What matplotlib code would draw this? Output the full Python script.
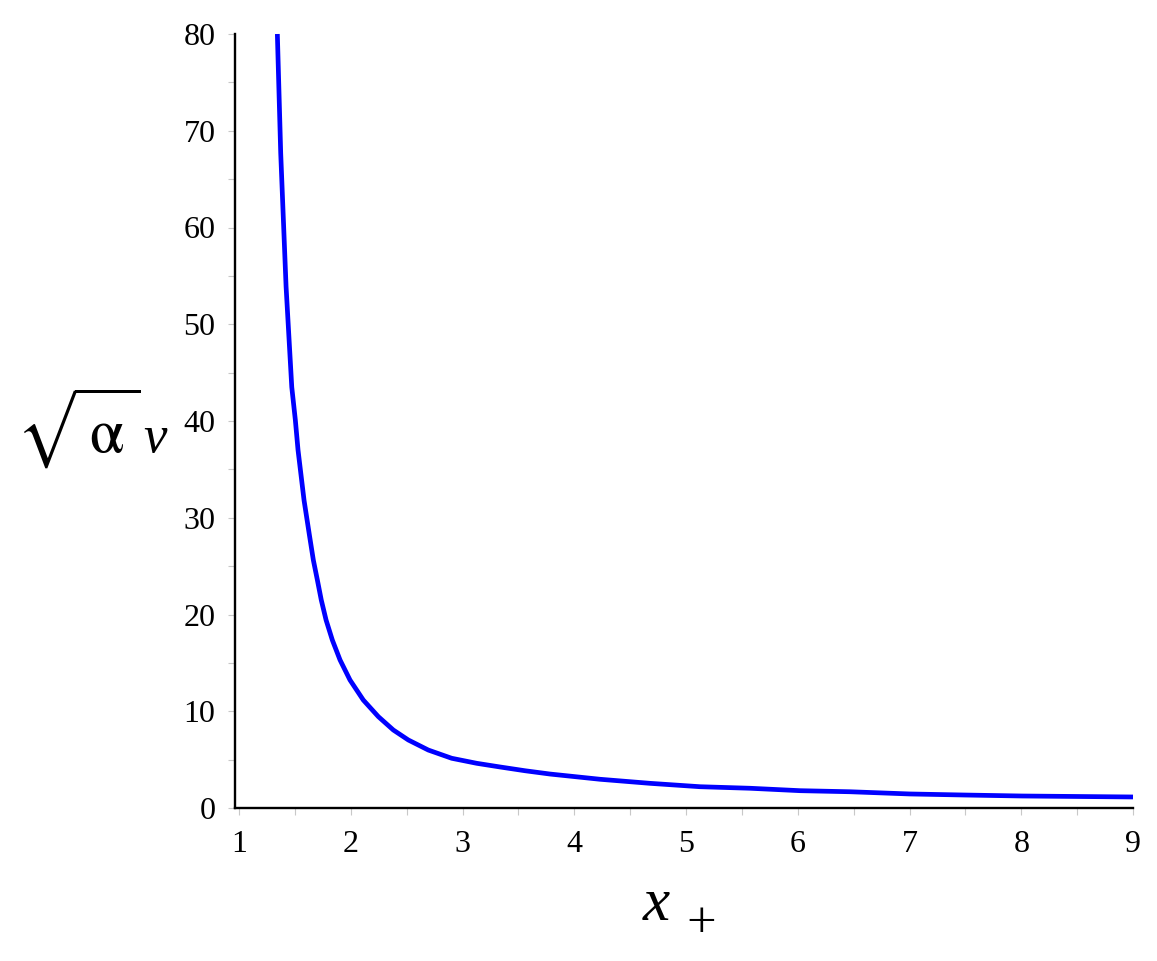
import matplotlib
matplotlib.use("Agg")
import matplotlib.pyplot as plt
from matplotlib.ticker import MultipleLocator

plt.rcParams['font.family'] = ['Liberation Serif', 'DejaVu Serif']
plt.rcParams['mathtext.fontset'] = 'stix'

# valores
x_mas = [1.343, 1.373, 1.421, 1.472, 1.504, 1.528, 1.582, 1.630, 1.665, 1.701,
         1.736, 1.779, 1.835, 1.904, 1.993, 2.112, 2.247, 2.381, 2.515, 2.694,
         2.903, 3.127, 3.336, 3.560, 3.783, 4.230, 4.678, 5.125, 5.573, 6.020,
         6.467, 7.004, 7.500, 8.007, 8.500, 9.0]
alfa_v = [80.0, 67.7, 53.9, 43.5, 40.1, 37.0, 31.8, 28.2, 25.63, 23.57,
          21.50, 19.43, 17.36, 15.30, 13.23, 11.16, 9.44, 8.06, 7.03, 5.99,
          5.14, 4.62, 4.24, 3.85, 3.51, 2.97, 2.55, 2.20, 2.04, 1.79,
          1.68, 1.45, 1.34, 1.24, 1.19, 1.14]

W, H = 1157, 961
fig = plt.figure(figsize=(W / 100, H / 100), dpi=100)
ax = fig.add_axes([235 / W, 1 - 808 / H, (1133 - 235) / W, (808 - 34) / H])

ax.plot(x_mas, alfa_v, color='#0000ff', lw=3.4, clip_on=False,
        solid_capstyle='butt', solid_joinstyle='round')

ax.set_xlim(0.964, 9.0)
ax.set_ylim(0, 80)

ax.spines['top'].set_visible(False)
ax.spines['right'].set_visible(False)
ax.spines['left'].set_linewidth(1.7)
ax.spines['bottom'].set_linewidth(1.7)

ax.xaxis.set_major_locator(MultipleLocator(1))
ax.xaxis.set_minor_locator(MultipleLocator(0.5))
ax.yaxis.set_major_locator(MultipleLocator(10))
ax.yaxis.set_minor_locator(MultipleLocator(5))
ax.tick_params(which='both', direction='out', length=5, width=0.8,
               color='#c8c8c8', labelsize=23)
ax.tick_params(axis='x', pad=11)
ax.tick_params(axis='y', pad=9)

# etiquetas de los ejes
fig.text(78 / W, 1 - 428 / H, r'$\sqrt{\,\mathrm{\alpha}\,}$', fontsize=45,
         ha='center', va='center')
fig.text(155 / W, 1 - 452 / H, 'v', fontsize=38, style='italic',
         ha='center', va='baseline')
fig.text(656 / W, 1 - 920 / H, 'x', fontsize=44, style='italic',
         ha='center', va='baseline')
fig.text(701 / W, 1 - 937 / H, '+', fontsize=38,
         ha='center', va='baseline')

fig.savefig("out.png", dpi=100)
